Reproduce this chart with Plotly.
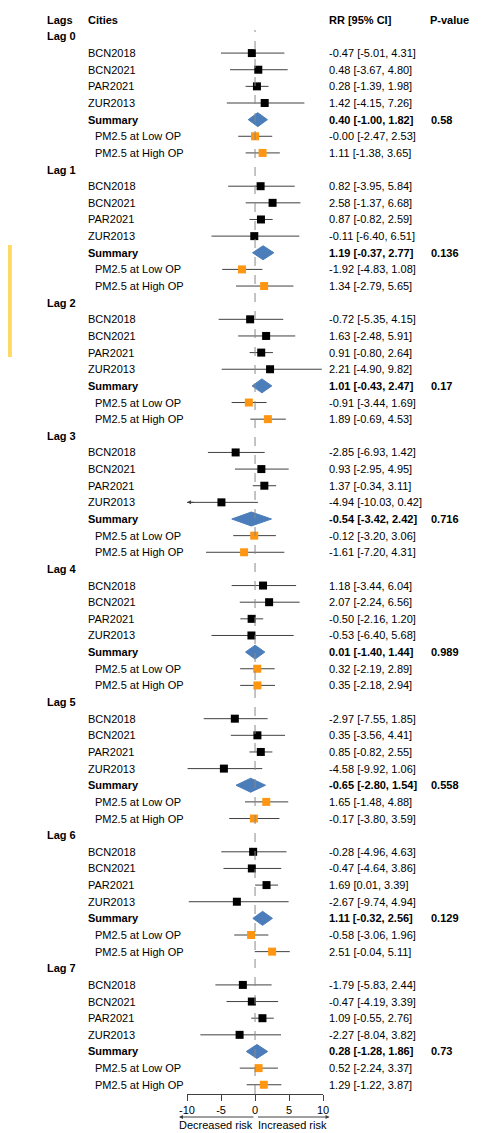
import plotly.graph_objects as go

# ---- data: estimates with 95% CI per lag (Lag 0 .. Lag 7) ----
lags = ["Lag 0", "Lag 1", "Lag 2", "Lag 3", "Lag 4", "Lag 5", "Lag 6", "Lag 7"]
city_names = ["BCN2018", "BCN2021", "PAR2021", "ZUR2013"]
op_names = ["PM2.5 at Low OP", "PM2.5 at High OP"]

bcn2018_est = [-0.47, 0.82, -0.72, -2.85, 1.18, -2.97, -0.28, -1.79]
bcn2018_lo = [-5.01, -3.95, -5.35, -6.93, -3.44, -7.55, -4.96, -5.83]
bcn2018_hi = [4.31, 5.84, 4.15, 1.42, 6.04, 1.85, 4.63, 2.44]

bcn2021_est = [0.48, 2.58, 1.63, 0.93, 2.07, 0.35, -0.47, -0.47]
bcn2021_lo = [-3.67, -1.37, -2.48, -2.95, -2.24, -3.56, -4.64, -4.19]
bcn2021_hi = [4.80, 6.68, 5.91, 4.95, 6.56, 4.41, 3.86, 3.39]

par2021_est = [0.28, 0.87, 0.91, 1.37, -0.50, 0.85, 1.69, 1.09]
par2021_lo = [-1.39, -0.82, -0.80, -0.34, -2.16, -0.82, 0.01, -0.55]
par2021_hi = [1.98, 2.59, 2.64, 3.11, 1.20, 2.55, 3.39, 2.76]

zur2013_est = [1.42, -0.11, 2.21, -4.94, -0.53, -4.58, -2.67, -2.27]
zur2013_lo = [-4.15, -6.40, -4.90, -10.03, -6.40, -9.92, -9.74, -8.04]
zur2013_hi = [7.26, 6.51, 9.82, 0.42, 5.68, 1.06, 4.94, 3.82]

summary_est = [0.40, 1.19, 1.01, -0.54, 0.01, -0.65, 1.11, 0.28]
summary_lo = [-1.00, -0.37, -0.43, -3.42, -1.40, -2.80, -0.32, -1.28]
summary_hi = [1.82, 2.77, 2.47, 2.42, 1.44, 1.54, 2.56, 1.86]
summary_p = [0.58, 0.136, 0.17, 0.716, 0.989, 0.558, 0.129, 0.73]

low_op_est = [-0.0, -1.92, -0.91, -0.12, 0.32, 1.65, -0.58, 0.52]
low_op_lo = [-2.47, -4.83, -3.44, -3.20, -2.19, -1.48, -3.06, -2.24]
low_op_hi = [2.53, 1.08, 1.69, 3.06, 2.89, 4.88, 1.96, 3.37]

high_op_est = [1.11, 1.34, 1.89, -1.61, 0.35, -0.17, 2.51, 1.29]
high_op_lo = [-1.38, -2.79, -0.69, -7.20, -2.18, -3.80, -0.04, -1.22]
high_op_hi = [3.65, 5.65, 4.53, 4.31, 2.94, 3.59, 5.11, 3.87]

x_ticks = [-10, -5, 0, 5, 10]
x_tick_labels = ["-10", "-5", "0", "5", "10"]

# ---- layout constants (pixels) ----
W, H = 490, 1133
ROW0, ROW_H = 19.8, 16.64          # centre of header row, row pitch
X_LEFT, X_RIGHT = 184.3, 324.3     # plot area for -10 .. 10
AXIS_Y = 1094
FONT = "Liberation Sans, Arial, sans-serif"
FS = 11
LINE_C = "#404040"
BLACK = "#000000"
ORANGE = "#FF9612"
BLUE = "#4A7DBA"

XMIN, XMAX = -10, 10
y_top = -ROW0 / ROW_H
y_bot = y_top + H / ROW_H

cities = [
    (bcn2018_est, bcn2018_lo, bcn2018_hi),
    (bcn2021_est, bcn2021_lo, bcn2021_hi),
    (par2021_est, par2021_lo, par2021_hi),
    (zur2013_est, zur2013_lo, zur2013_hi),
]
ops = [
    (low_op_est, low_op_lo, low_op_hi),
    (high_op_est, high_op_lo, high_op_hi),
]


def fmt(e, lo, hi):
    return f"{e:.2f} [{lo:.2f}, {hi:.2f}]"


annotations = []


def add_text(px, row, text, bold=False):
    annotations.append(dict(
        x=(px - 3) / W, xref="paper", y=row, yref="y",
        text=f"<b>{text}</b>" if bold else text,
        showarrow=False, xanchor="left", yanchor="middle",
        font=dict(family=FONT, size=FS, color=BLACK),
    ))


# column headers
add_text(41, 0, "Lags", True)
add_text(83, 0, "Cities", True)
add_text(331, 0, "RR [95% CI]", True)
add_text(435, 0, "P-value", True)

city_seg_x, city_seg_y, city_pt_x, city_pt_y = [], [], [], []
op_seg_x, op_seg_y, op_pt_x, op_pt_y = [], [], [], []
dia_x, dia_y = [], []
clip_arrows = []
DH = 0.42  # half height of summary diamond in rows

for k, lag in enumerate(lags):
    base = 1 + 8 * k
    add_text(41, base, lag, True)

    for j, (est, lo, hi) in enumerate(cities):
        r = base + 1 + j
        add_text(83, r, city_names[j])
        add_text(331, r, fmt(est[k], lo[k], hi[k]))
        a, b = max(lo[k], XMIN), min(hi[k], XMAX)
        city_seg_x += [a, b, None]
        city_seg_y += [r, r, None]
        city_pt_x.append(est[k])
        city_pt_y.append(r)
        if lo[k] < XMIN:
            clip_arrows.append((XMIN, r, 1))
        if hi[k] > XMAX:
            clip_arrows.append((XMAX, r, -1))

    r = base + 5
    add_text(83, r, "Summary", True)
    add_text(331, r, fmt(summary_est[k], summary_lo[k], summary_hi[k]), True)
    add_text(436, r, str(summary_p[k]), True)
    dia_x += [summary_lo[k], summary_est[k], summary_hi[k], summary_est[k], summary_lo[k], None]
    dia_y += [r, r - DH, r, r + DH, r, None]

    for j, (est, lo, hi) in enumerate(ops):
        r = base + 6 + j
        add_text(90, r, op_names[j])
        add_text(331, r, fmt(est[k], lo[k], hi[k]))
        op_seg_x += [max(lo[k], XMIN), min(hi[k], XMAX), None]
        op_seg_y += [r, r, None]
        op_pt_x.append(est[k])
        op_pt_y.append(r)

# arrows where a CI runs past the axis limits
for xe, r, d in clip_arrows:
    annotations.append(dict(
        x=xe, y=r, xref="x", yref="y", ax=xe + d * 1.2, ay=r,
        axref="x", ayref="y", text="", showarrow=True,
        arrowhead=2, arrowsize=0.8, arrowwidth=1, arrowcolor=LINE_C,
    ))

# direction arrows and captions under the axis
arrow_y = 1 - 1117 / H
annotations.append(dict(x=176 / W, y=arrow_y, xref="paper", yref="paper",
                        ax=76, ay=0, text="", showarrow=True, arrowhead=2,
                        arrowsize=0.8, arrowwidth=1, arrowcolor=LINE_C))
annotations.append(dict(x=331 / W, y=arrow_y, xref="paper", yref="paper",
                        ax=-73, ay=0, text="", showarrow=True, arrowhead=2,
                        arrowsize=0.8, arrowwidth=1, arrowcolor=LINE_C))
for cx, label in [(214, "Decreased risk"), (293, "Increased risk")]:
    annotations.append(dict(x=cx / W, y=1 - 1125 / H, xref="paper", yref="paper",
                            text=label, showarrow=False, xanchor="center",
                            yanchor="middle",
                            font=dict(family=FONT, size=FS, color=BLACK)))

fig = go.Figure()
fig.add_trace(go.Scatter(x=city_seg_x, y=city_seg_y, mode="lines",
                         line=dict(color=LINE_C, width=1), hoverinfo="skip"))
fig.add_trace(go.Scatter(x=op_seg_x, y=op_seg_y, mode="lines",
                         line=dict(color=LINE_C, width=1), hoverinfo="skip"))
fig.add_trace(go.Scatter(x=dia_x, y=dia_y, mode="lines", fill="toself",
                         fillcolor=BLUE, line=dict(color=BLUE, width=1)))
fig.add_trace(go.Scatter(x=city_pt_x, y=city_pt_y, mode="markers",
                         marker=dict(symbol="square", size=8, color=BLACK,
                                     line=dict(width=0))))
fig.add_trace(go.Scatter(x=op_pt_x, y=op_pt_y, mode="markers",
                         marker=dict(symbol="square", size=8, color=ORANGE,
                                     line=dict(width=0))))

shapes = [
    # reference line at zero
    dict(type="line", xref="x", yref="paper", x0=0, x1=0,
         y0=1 - AXIS_Y / H, y1=1 - 30 / H,
         line=dict(color="#8a8a8a", width=1, dash="dash")),
    # yellow margin marker
    dict(type="rect", xref="paper", yref="paper", x0=0, x1=4 / W,
         y0=1 - 357 / H, y1=1 - 245 / H, fillcolor="#FFD966",
         line=dict(width=0)),
]

fig.update_layout(
    width=W, height=H,
    margin=dict(l=0, r=0, t=0, b=0),
    paper_bgcolor="white", plot_bgcolor="white",
    showlegend=False,
    font=dict(family=FONT, size=FS, color=BLACK),
    xaxis=dict(range=[XMIN, XMAX], domain=[X_LEFT / W, X_RIGHT / W],
               anchor="free", position=1 - AXIS_Y / H,
               showline=True, linecolor=LINE_C, linewidth=1,
               ticks="outside", ticklen=6, tickcolor=LINE_C, tickwidth=1,
               tickvals=x_ticks, ticktext=x_tick_labels,
               tickfont=dict(family=FONT, size=FS, color=BLACK),
               showgrid=False, zeroline=False, fixedrange=True),
    yaxis=dict(range=[y_bot, y_top], domain=[0, 1], visible=False,
               showgrid=False, zeroline=False, fixedrange=True),
    annotations=annotations,
    shapes=shapes,
)

fig.write_html("out.html", config={"displayModeBar": False})
